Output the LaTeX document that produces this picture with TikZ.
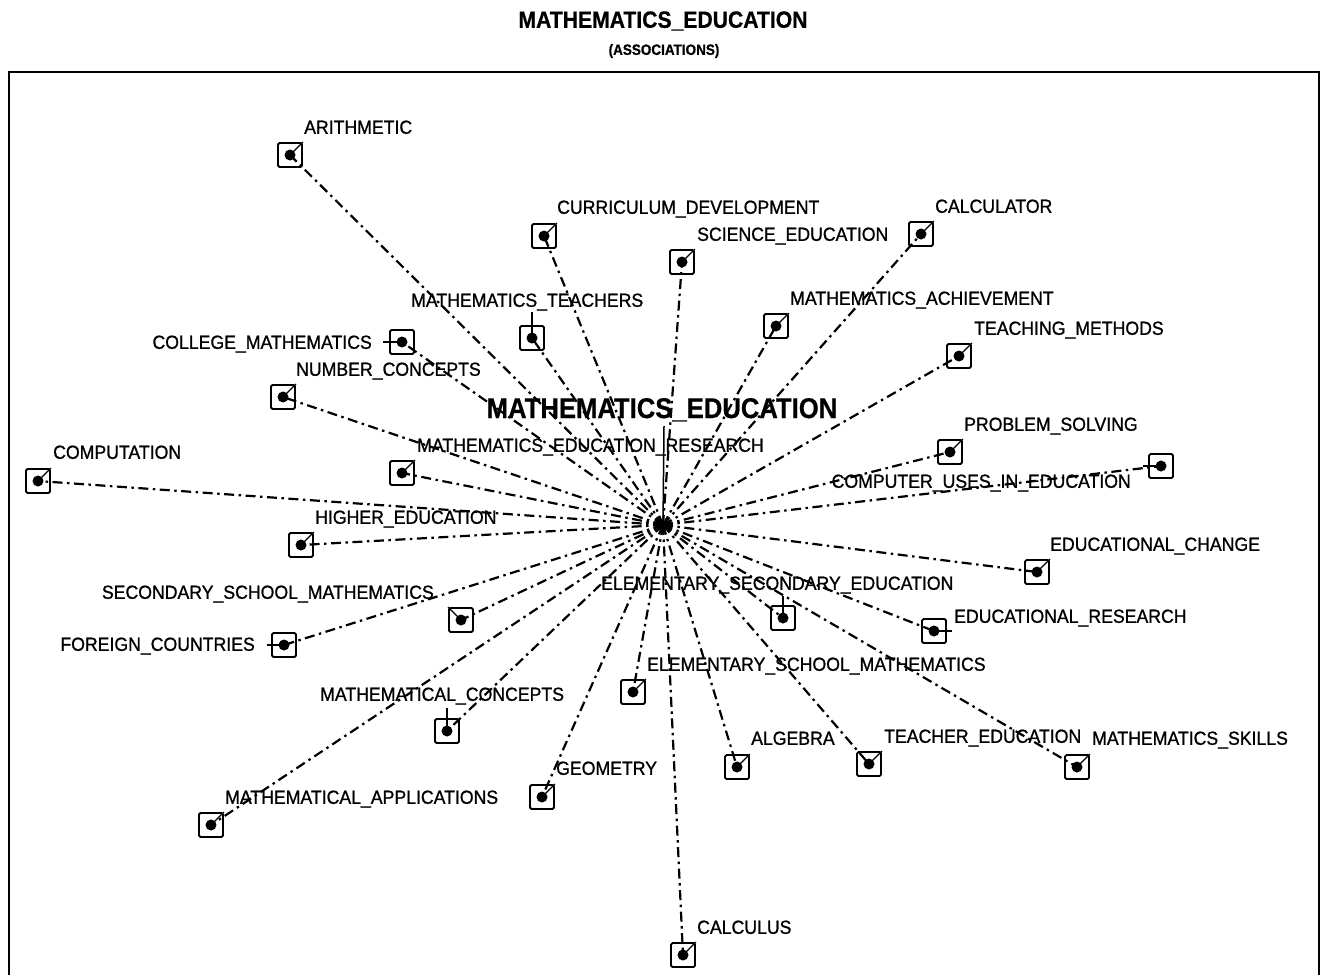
\documentclass[tikz,border=0pt]{standalone}
\usepackage{fontspec}
\newfontfamily\labfont{Liberation Sans}[FakeStretch=0.93,FakeBold=1]
\newfontfamily\titlefont{Liberation Sans}[FakeStretch=0.9,FakeBold=0.6]
\tikzset{
  nbox/.style={draw, line width=1.8pt, rounded corners=1.5pt, minimum size=24pt, inner sep=0pt},
  lab/.style={font=\labfont\fontsize{19}{19}\selectfont, inner sep=0pt, text height=13.6pt, text depth=0pt},
  link/.style={line width=2.2pt, dash pattern=on 10pt off 4.5pt on 2.5pt off 4.5pt},
  tick/.style={line width=1.3pt},
}
\newcommand{\mynode}[8]{% name, x, y, label x, label y, anchor, text, tick target
  \node[nbox] (#1) at (#2,#3) {};
  \fill (#1.center) circle (5.5pt);
  \node[lab, anchor=#6] (#1-l) at (#4,#5) {#7};
  \draw[link] (hub) -- (#1.center);
  \draw[tick] (#1.center) -- #8;
}
\begin{document}
\begin{tikzpicture}[x=1pt,y=-1pt]
\useasboundingbox (0,0) rectangle (1322,975);
\fill[white] (0,0) rectangle (1322,975);
\node[font=\titlefont\bfseries\fontsize{23.5}{23.5}\selectfont, inner sep=0pt] (title) at (663,21) {MATHEMATICS\_EDUCATION};
\node[font=\titlefont\bfseries\fontsize{15}{15}\selectfont, inner sep=0pt] (subtitle) at (664,51) {(ASSOCIATIONS)};
\draw[line width=2.5pt] (9,975) -- (9,72) -- (1319,72) -- (1319,975);
\coordinate (hub) at (663,525);
\node[font=\titlefont\bfseries\fontsize{28.5}{28.5}\selectfont, inner sep=0pt, text height=20pt, text depth=0pt] (main) at (662,408) {MATHEMATICS\_EDUCATION};
\draw[line width=1.5pt] (main.south) ++(2,8) -- (hub);
\mynode{ar}{290}{155}{304}{127}{west}{ARITHMETIC}{(ar.north east)}
\mynode{cd}{544}{236}{557}{207}{west}{CURRICULUM\_DEVELOPMENT}{(cd.north east)}
\mynode{se}{682}{262}{697}{234}{west}{SCIENCE\_EDUCATION}{(se.north east)}
\mynode{ca}{921}{234}{935}{206}{west}{CALCULATOR}{(ca.north east)}
\mynode{mt}{532}{338}{411}{300}{west}{MATHEMATICS\_TEACHERS}{(532,312)}
\mynode{ma}{776}{326}{790}{298}{west}{MATHEMATICS\_ACHIEVEMENT}{(ma.north east)}
\mynode{tm}{959}{356}{974}{328}{west}{TEACHING\_METHODS}{(tm.north east)}
\mynode{cm}{402}{342}{372}{342}{east}{COLLEGE\_MATHEMATICS}{(383,342)}
\mynode{nc}{283}{397}{296}{369}{west}{NUMBER\_CONCEPTS}{(nc.north east)}
\mynode{mr}{402}{473}{417}{445}{west}{MATHEMATICS\_EDUCATION\_RESEARCH}{(mr.north east)}
\mynode{co}{38}{481}{53}{452}{west}{COMPUTATION}{(co.north east)}
\mynode{ps}{950}{452}{964}{424}{west}{PROBLEM\_SOLVING}{(ps.north east)}
\mynode{cu}{1161}{466}{1131}{481}{east}{COMPUTER\_USES\_IN\_EDUCATION}{(1143,466)}
\mynode{he}{301}{545}{315}{517}{west}{HIGHER\_EDUCATION}{(he.north east)}
\mynode{ec}{1037}{572}{1050}{544}{west}{EDUCATIONAL\_CHANGE}{(ec.north east)}
\mynode{ss}{461}{620}{434}{592}{east}{SECONDARY\_SCHOOL\_MATHEMATICS}{(ss.north west)}
\mynode{es}{783}{618}{601}{583}{west}{ELEMENTARY\_SECONDARY\_EDUCATION}{(783,596)}
\mynode{er}{934}{631}{954}{616}{west}{EDUCATIONAL\_RESEARCH}{(952,631)}
\mynode{fc}{284}{645}{255}{644}{east}{FOREIGN\_COUNTRIES}{(267,645)}
\mynode{em}{633}{692}{647}{664}{west}{ELEMENTARY\_SCHOOL\_MATHEMATICS}{(em.north east)}
\mynode{mc}{447}{731}{320}{694}{west}{MATHEMATICAL\_CONCEPTS}{(447,708)}
\mynode{al}{737}{767}{751}{738}{west}{ALGEBRA}{(al.north east)}
\mynode{te}{869}{764}{884}{736}{west}{TEACHER\_EDUCATION}{(te.north east)}
\mynode{ms}{1077}{767}{1092}{738}{west}{MATHEMATICS\_SKILLS}{(ms.north east)}
\mynode{ge}{542}{797}{556}{768}{west}{GEOMETRY}{(ge.north east)}
\mynode{mp}{211}{825}{225}{797}{west}{MATHEMATICAL\_APPLICATIONS}{(mp.north east)}
\mynode{cl}{683}{955}{697}{927}{west}{CALCULUS}{(cl.north east)}
\end{tikzpicture}
\end{document}
